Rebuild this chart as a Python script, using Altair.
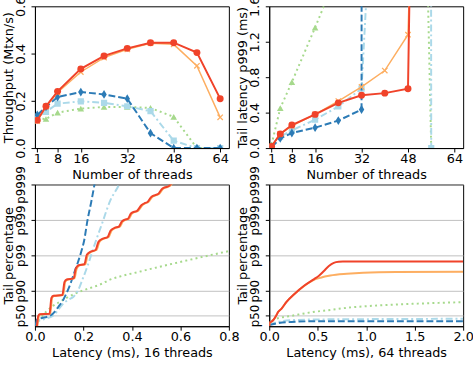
import altair as alt
import pandas as pd

# ---------------- data ----------------
threads = [1, 4, 8, 16, 24, 32, 40, 48, 56, 64]

tput_red    = [0.118, 0.177, 0.240, 0.335, 0.390, 0.422, 0.446, 0.446, 0.404, 0.209]
tput_orange = [0.114, 0.175, 0.235, 0.322, 0.383, 0.418, 0.444, 0.439, 0.348, 0.130]
tput_dblue  = [0.140, 0.174, 0.216, 0.237, 0.227, 0.209, 0.063, 0.0, 0.0, 0.0]
tput_lblue  = [0.132, 0.153, 0.188, 0.198, 0.191, 0.177, 0.156, 0.031, 0.0, 0.0]
tput_green  = [0.125, 0.123, 0.150, 0.167, 0.174, 0.174, 0.170, 0.132, 0.0, 0.0]

lat_red    = [0.019, 0.16, 0.26, 0.38, 0.51, 0.595, 0.62, 0.67, 17.0, 30.0]
lat_orange = [0.02, 0.16, 0.25, 0.38, 0.53, 0.69, 0.875, 1.28, 10.0, 20.0]
lat_dblue  = [0.01, 0.11, 0.17, 0.23, 0.31, 0.435, 500.0, 500.0, 500.0, 500.0]
lat_lblue  = [0.01, 0.13, 0.20, 0.32, 0.47, 0.67, 5.6, 300.0, 0.0, None]
lat_green  = [0.04, 0.45, 0.745, 1.36, 2.0, 5.0, 20.0, 12.0, 0.0, None]

# tail CDFs, y in "nines" = -log10(1 - p)
c16_red_x = [0.008, 0.014, 0.020, 0.060, 0.068, 0.076, 0.113, 0.122, 0.131, 0.160, 0.168, 0.180, 0.204,
             0.214, 0.228, 0.250, 0.262, 0.280, 0.300, 0.312, 0.330, 0.346, 0.358, 0.372, 0.383, 0.396,
             0.410, 0.420, 0.440, 0.455, 0.463, 0.480, 0.496, 0.508, 0.525, 0.542, 0.551, 0.565]
c16_red_y = [0.0, 0.30, 0.34, 0.35, 0.80, 0.86, 0.88, 1.25, 1.32, 1.35, 1.62, 1.72, 1.75,
             2.02, 2.10, 2.15, 2.38, 2.47, 2.52, 2.70, 2.78, 2.81, 2.95, 3.01, 3.03, 3.18,
             3.23, 3.25, 3.42, 3.48, 3.50, 3.65, 3.70, 3.73, 3.88, 3.93, 3.95, 4.05]
c16_orange_x = [0.010, 0.017, 0.023, 0.063, 0.071, 0.080, 0.116, 0.125, 0.135, 0.163, 0.172, 0.184, 0.208,
                0.218, 0.232, 0.254, 0.266, 0.284, 0.304, 0.316, 0.334, 0.350, 0.362, 0.376, 0.387, 0.400,
                0.414, 0.424, 0.444, 0.459, 0.467, 0.484, 0.500, 0.512, 0.529, 0.546, 0.555, 0.569]
c16_orange_y = [0.0, 0.30, 0.34, 0.35, 0.80, 0.86, 0.88, 1.25, 1.32, 1.35, 1.62, 1.72, 1.75,
                2.02, 2.10, 2.15, 2.38, 2.47, 2.52, 2.70, 2.78, 2.81, 2.95, 3.01, 3.03, 3.18,
                3.23, 3.25, 3.42, 3.48, 3.50, 3.65, 3.70, 3.73, 3.88, 3.93, 3.95, 4.05]
c16_dblue_x = [0.003, 0.008, 0.022, 0.055, 0.075, 0.097, 0.117, 0.130, 0.145, 0.158, 0.178, 0.190, 0.203,
               0.217, 0.232, 0.247]
c16_dblue_y = [0.02, 0.18, 0.22, 0.28, 0.36, 0.55, 0.75, 0.93, 1.17, 1.43, 1.82, 2.08, 2.42,
               3.0, 3.5, 4.05]
c16_lblue_x = [0.003, 0.016, 0.050, 0.077, 0.100, 0.120, 0.140, 0.160, 0.177, 0.195, 0.217, 0.244,
               0.277, 0.311, 0.345, 0.360]
c16_lblue_y = [0.02, 0.15, 0.22, 0.31, 0.50, 0.66, 0.75, 0.84, 1.0, 1.3, 1.70, 2.26,
               2.9, 3.55, 3.97, 4.2]
c16_green_x = [0.003, 0.02, 0.045, 0.07, 0.10, 0.13, 0.176, 0.22, 0.27, 0.305, 0.36, 0.42, 0.467,
               0.54, 0.616, 0.70, 0.80]
c16_green_y = [0.02, 0.2, 0.4, 0.55, 0.68, 0.80, 0.95, 1.06, 1.18, 1.30, 1.42, 1.52, 1.60,
               1.72, 1.84, 1.97, 2.12]

c64_red_x = [0.0, 0.004, 0.017, 0.04, 0.074, 0.091, 0.125, 0.176, 0.26, 0.36, 0.463, 0.51, 0.564,
             0.615, 0.666, 0.716, 0.76, 1.0, 1.5, 2.0]
c64_red_y = [0.0, 0.10, 0.12, 0.17, 0.31, 0.40, 0.49, 0.68, 0.91, 1.14, 1.33, 1.42, 1.56,
             1.70, 1.79, 1.82, 1.825, 1.825, 1.825, 1.825]
c64_orange_x = [0.0, 0.004, 0.017, 0.04, 0.074, 0.091, 0.125, 0.176, 0.26, 0.36, 0.446, 0.53, 0.63,
                0.80, 0.97, 1.31, 2.0]
c64_orange_y = [0.0, 0.10, 0.12, 0.17, 0.31, 0.40, 0.49, 0.68, 0.91, 1.14, 1.29, 1.37, 1.43,
                1.48, 1.51, 1.53, 1.535]
c64_dblue_x = [0.0, 0.06, 0.226, 0.46, 2.0]
c64_dblue_y = [0.03, 0.07, 0.12, 0.14, 0.14]
c64_lblue_x = [0.0, 0.057, 0.226, 0.46, 0.97, 2.0]
c64_lblue_y = [0.03, 0.10, 0.17, 0.19, 0.20, 0.21]
c64_green_x = [0.0, 0.02, 0.06, 0.125, 0.2, 0.3, 0.45, 0.63, 0.8, 0.97, 1.3, 1.65, 2.0]
c64_green_y = [0.04, 0.14, 0.20, 0.25, 0.28, 0.33, 0.40, 0.46, 0.52, 0.56, 0.61, 0.65, 0.68]

tail_ticks = [0.30103, 1, 2, 3, 4]
tail_labels = ["p50", "p90", "p99", "p999", "p9999"]

# ---------------- styles ----------------
FONT = "DejaVu Sans"
FS = 13
C_RED = "#f0432a"
C_ORANGE = "#fdae61"
C_DBLUE = "#2c7bb6"
C_LBLUE = "#abd9e9"
C_GREEN = "#a6d98c"

X_PATH = "M -1 -1 L 1 1 M -1 1 L 1 -1"
THIN_DIAMOND = "M 0 -1 L 0.62 0 L 0 1 L -0.62 0 Z"

# name, color, dash, shape, size, filled, line width
series_style = [
    ("green", C_GREEN, [2, 3.3], "triangle-up", 45, True, 2),
    ("lblue", C_LBLUE, [7, 3, 2, 3], "square", 40, True, 2),
    ("dblue", C_DBLUE, [7, 3], THIN_DIAMOND, 80, True, 2),
    ("orange", C_ORANGE, [], X_PATH, 30, False, 1.5),
    ("red", C_RED, [], "circle", 50, True, 2),
]

W, H = 197, 144

ax_common = dict(domainColor="black", domainWidth=1, tickColor="black", tickSize=4, tickWidth=1,
                 labelFont=FONT, labelColor="black",
                 titleFont=FONT, titleFontSize=FS, titleFontWeight="normal", titleColor="black")


def x_axis(values, title):
    return alt.Axis(values=values, title=title, grid=False, labelPadding=1, labelFontSize=FS,
                    titleX=W / 2, titleY=26.5, titleAlign="center", titleBaseline="middle",
                    labelFlush=False, labelOverlap=False, **ax_common)


def y_axis(values, title, grid=False, label_expr=None, label_fs=FS):
    kw = dict(values=values, title=title, grid=grid, labelAngle=270, labelAlign="center",
              labelBaseline="bottom", labelPadding=4, labelFontSize=label_fs,
              titleAngle=270, titleX=-27, titleY=H / 2,
              titleAlign="center", titleBaseline="middle", labelFlush=False, labelOverlap=False,
              gridColor="#b0b0b0", gridWidth=0.8, **ax_common)
    if label_expr is not None:
        kw["labelExpr"] = label_expr
    return alt.Axis(**kw)


def top_panel(series_vals, ydom, yticks, ytitle):
    xenc = alt.X("x:Q", scale=alt.Scale(domain=[0.2, 67], nice=False, zero=False),
                 axis=x_axis([1, 8, 16, 32, 48, 64], "Number of threads"))
    yenc = alt.Y("y:Q", scale=alt.Scale(domain=ydom, nice=False, zero=False),
                 axis=y_axis(yticks, ytitle))
    layers = []
    for (name, color, dash, shape, size, filled, lw) in series_style:
        df = pd.DataFrame({"x": threads, "y": series_vals[name]})
        line_kw = dict(color=color, strokeWidth=lw, clip=True)
        if dash:
            line_kw["strokeDash"] = dash
        layers.append(alt.Chart(df).mark_line(**line_kw).encode(x=xenc, y=yenc))
        if filled:
            pt = alt.Chart(df).mark_point(shape=shape, size=size, filled=True, color=color,
                                          opacity=1, clip=True)
        else:
            pt = alt.Chart(df).mark_point(shape=shape, size=size, filled=False, color=color,
                                          strokeWidth=1.3, opacity=1, clip=True)
        layers.append(pt.encode(x=xenc, y=yenc))
    return alt.layer(*layers).properties(width=W, height=H)


def bottom_panel(curves, xdom, xticks, xtitle):
    xenc = alt.X("x:Q", scale=alt.Scale(domain=xdom, nice=False, zero=False),
                 axis=x_axis(xticks, xtitle))
    label_expr = ("datum.value < 0.5 ? 'p50' : datum.value < 1.5 ? 'p90' : "
                  "datum.value < 2.5 ? 'p99' : datum.value < 3.5 ? 'p999' : 'p9999'")
    yenc = alt.Y("y:Q", scale=alt.Scale(domain=[0, 4], nice=False, zero=False),
                 axis=y_axis(tail_ticks, "Tail percentage", grid=True, label_expr=label_expr,
                             label_fs=12))
    layers = []
    for (name, color, dash, shape, size, filled, lw) in series_style:
        xs, ys = curves[name]
        df = pd.DataFrame({"x": xs, "y": ys})
        line_kw = dict(color=color, strokeWidth=2, clip=True, interpolate="monotone")
        if dash:
            line_kw["strokeDash"] = dash
        layers.append(alt.Chart(df).mark_line(**line_kw).encode(x=xenc, y=yenc))
    return alt.layer(*layers).properties(width=W, height=H)


tl = top_panel({"red": tput_red, "orange": tput_orange, "dblue": tput_dblue,
                "lblue": tput_lblue, "green": tput_green},
               [0, 0.6], [0, 0.2, 0.4, 0.6], "Throughput (Mtxn/s)")
tr = top_panel({"red": lat_red, "orange": lat_orange, "dblue": lat_dblue,
                "lblue": lat_lblue, "green": lat_green},
               [0, 1.6], [0, 0.4, 0.8, 1.2, 1.6], "Tail latency p999 (ms)")
bl = bottom_panel({"red": (c16_red_x, c16_red_y), "orange": (c16_orange_x, c16_orange_y),
                   "dblue": (c16_dblue_x, c16_dblue_y), "lblue": (c16_lblue_x, c16_lblue_y),
                   "green": (c16_green_x, c16_green_y)},
                  [0, 0.8], [0, 0.2, 0.4, 0.6, 0.8], "Latency (ms), 16 threads")
br = bottom_panel({"red": (c64_red_x, c64_red_y), "orange": (c64_orange_x, c64_orange_y),
                   "dblue": (c64_dblue_x, c64_dblue_y), "lblue": (c64_lblue_x, c64_lblue_y),
                   "green": (c64_green_x, c64_green_y)},
                  [0, 2], [0, 0.5, 1, 1.5, 2], "Latency (ms), 64 threads")

chart = alt.concat(tl, tr, bl, br, columns=2, spacing={"row": 37, "column": 41},
                   bounds="flush").resolve_scale(x="independent", y="independent").properties(
    padding={"left": 1.5, "top": -7.5, "right": -1, "bottom": 4},
    background="white",
).configure_view(stroke="black", strokeWidth=1)

chart.save("out.html", embed_options={"renderer": "svg", "actions": False})
